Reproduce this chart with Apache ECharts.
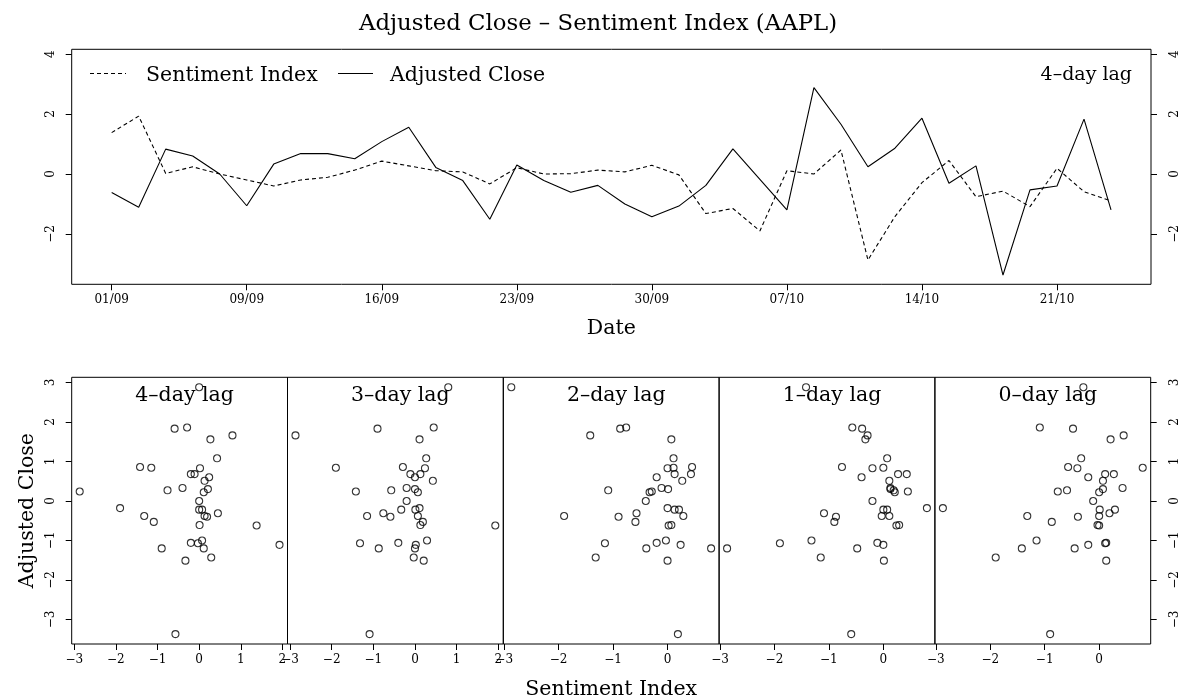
<!DOCTYPE html>
<html>
<head>
<meta charset="utf-8">
<title>Adjusted Close – Sentiment Index (AAPL)</title>
<script src="https://cdn.jsdelivr.net/npm/echarts@6/dist/echarts.min.js"></script>
<style>
  html, body { margin: 0; padding: 0; background: #fff; }
  #chart { width: 1184px; height: 699px; }
</style>
</head>
<body>
<div id="chart"></div>
<script>
// Trading days, 1 Sep – 23 Oct 2015
const tradingDates = [
  '01/09','02/09','03/09','04/09','08/09','09/09','10/09','11/09','14/09','15/09',
  '16/09','17/09','18/09','21/09','22/09','23/09','24/09','25/09','28/09','29/09',
  '30/09','01/10','02/10','05/10','06/10','07/10','08/10','09/10','12/10','13/10',
  '14/10','15/10','16/10','19/10','20/10','21/10','22/10','23/10'
];

// Dates that get a tick on the time axis
const dateTicks = ['01/09','09/09','16/09','23/09','30/09','07/10','14/10','21/10'];

// Standardised adjusted close, one value per trading day
const adjustedClose = [
  -0.62, -1.11, 0.83, 0.60, 0.00, -1.06, 0.33, 0.68, 0.68, 0.51,
   1.08,  1.56, 0.22, -0.22, -1.51, 0.30, -0.22, -0.61, -0.38, -1.00,
  -1.43, -1.07, -0.38, 0.84, -0.18, -1.20, 2.88, 1.66, 0.24, 0.86,
   1.86, -0.31, 0.27, -3.37, -0.53, -0.40, 1.83, -1.20
];

// Standardised sentiment index; starts 4 trading days before the first close,
// so sentimentIndex[t + 4 - k] is the reading k days before close t
const sentimentIndex = [
   1.38,  1.93, 0.02, 0.24, 0.00, -0.20, -0.40, -0.20, -0.11, 0.13,
   0.43,  0.27, 0.11, 0.07, -0.33, 0.21, 0.00, 0.01, 0.13, 0.07,
   0.29, -0.03, -1.32, -1.15, -1.90, 0.11, 0.00, 0.80, -2.87, -1.42,
  -0.29,  0.45, -0.76, -0.57, -1.09, 0.19, -0.59, -0.90, -0.87, -0.39,
  -0.48, -0.45
];

// Lags shown in the scatter panels, left to right
const lags = [4, 3, 2, 1, 0];

const FONT = 'DejaVu Serif';
const minus = v => String(v).replace('-', '\u2212');

// R-style 4% range padding
function padRange(values) {
  const lo = Math.min(...values), hi = Math.max(...values);
  const d = (hi - lo) * 0.04;
  return [lo - d, hi + d];
}
function intTicks(lo, hi) {
  const out = [];
  for (let v = Math.ceil(lo); v <= Math.floor(hi); v++) out.push(v);
  return out;
}

const n = adjustedClose.length;
const tickIdx = dateTicks.map(d => tradingDates.indexOf(d));
const lagged = sentimentIndex.slice(0, n);

const grids = [];
const xAxes = [];
const yAxes = [];
const series = [];
const titles = [];

const tickStyle = { show: true, length: 6, lineStyle: { color: '#000', width: 1 } };
const axisText = { color: '#000', fontFamily: FONT, fontSize: 12 };
const nameText = { color: '#000', fontFamily: FONT, fontSize: 20.5 };
const hiddenLine = { show: false, onZero: false };
const boxStyle = { show: true, borderColor: '#000', borderWidth: 1, outerBoundsMode: 'none', containLabel: false };

// ---- top panel: time series ----
grids.push(Object.assign({ left: 71.7, top: 49.3, width: 1079.3, height: 235 }, boxStyle));

xAxes.push({
  type: 'value', gridIndex: 0, min: -0.04 * (n - 1), max: (n - 1) * 1.04,
  axisLine: hiddenLine, splitLine: { show: false },
  axisTick: Object.assign({ customValues: tickIdx }, tickStyle),
  axisLabel: Object.assign({ customValues: tickIdx, margin: 10, formatter: v => tradingDates[v] }, axisText),
  name: 'Date', nameLocation: 'middle', nameGap: 34, nameTextStyle: nameText
});
const topYTicks = [-2, 0, 2, 4];
['left', 'right'].forEach(pos => {
  yAxes.push({
    type: 'value', gridIndex: 0, position: pos, min: -3.68, max: 4.16,
    axisLine: hiddenLine, splitLine: { show: false },
    axisTick: Object.assign({ customValues: topYTicks }, tickStyle),
    axisLabel: Object.assign({ customValues: topYTicks, rotate: 90, margin: pos === 'left' ? 15 : 18, formatter: minus }, axisText)
  });
});

series.push({
  name: 'Sentiment Index', type: 'line', xAxisIndex: 0, yAxisIndex: 0,
  data: lagged.map((v, i) => [i, v]), symbol: 'none', animation: false,
  lineStyle: { color: '#000', width: 1.1, type: [4, 3] }
});
series.push({
  name: 'Adjusted Close', type: 'line', xAxisIndex: 0, yAxisIndex: 0,
  data: adjustedClose.map((v, i) => [i, v]), symbol: 'none', animation: false,
  lineStyle: { color: '#000', width: 1.1, type: 'solid' }
});

titles.push({
  text: 'Adjusted Close \u2013 Sentiment Index (AAPL)', left: 593, top: 8, textAlign: 'center',
  textStyle: { color: '#000', fontFamily: FONT, fontSize: 22.8, fontWeight: 'normal' }
});
titles.push({
  text: lags[0] + '\u2013day lag', left: 1127, top: 61, textAlign: 'right',
  textStyle: { color: '#000', fontFamily: FONT, fontSize: 19, fontWeight: 'normal' }
});

// ---- bottom row: lagged scatter panels ----
const panelTop = 377.3, panelH = 266.7, panelW = 215.8, panelLeft0 = 71.7;
const yRange = padRange(adjustedClose);
const yTicks = intTicks(yRange[0], yRange[1]);

lags.forEach((k, p) => {
  const gi = p + 1;
  const xs = adjustedClose.map((c, t) => sentimentIndex[t + 4 - k]);
  const xRange = padRange(xs);
  const xTicks = intTicks(xRange[0], xRange[1]);
  const left = panelLeft0 + p * panelW;
  grids.push(Object.assign({ left: left, top: panelTop, width: panelW, height: panelH }, boxStyle));

  const xa = {
    type: 'value', gridIndex: gi, min: xRange[0], max: xRange[1],
    axisLine: hiddenLine, splitLine: { show: false },
    axisTick: Object.assign({ customValues: xTicks }, tickStyle),
    axisLabel: Object.assign({ customValues: xTicks, margin: 10, formatter: minus }, axisText)
  };
  if (p === 2) {
    xa.name = 'Sentiment Index';
    xa.nameLocation = 'middle';
    xa.nameGap = 35;
    xa.nameTextStyle = nameText;
  }
  xAxes.push(xa);

  const isLast = p === lags.length - 1;
  const edge = p === 0 || isLast;
  const ya = {
    type: 'value', gridIndex: gi, min: yRange[0], max: yRange[1],
    position: isLast ? 'right' : 'left',
    axisLine: hiddenLine, splitLine: { show: false },
    axisTick: Object.assign({ customValues: yTicks }, tickStyle, { show: edge }),
    axisLabel: Object.assign({ customValues: yTicks, rotate: 90, margin: isLast ? 18 : 15, formatter: minus, show: edge }, axisText)
  };
  if (p === 0) {
    ya.name = 'Adjusted Close';
    ya.nameLocation = 'middle';
    ya.nameGap = 34;
    ya.nameRotate = 90;
    ya.nameTextStyle = nameText;
  }
  yAxes.push(ya);

  titles.push({
    text: k + '\u2013day lag', left: left + panelW / 2, top: panelTop + 3, textAlign: 'center',
    textStyle: { color: '#000', fontFamily: FONT, fontSize: 20.5, fontWeight: 'normal' }
  });

  series.push({
    name: k + '-day lag', type: 'scatter', xAxisIndex: gi, yAxisIndex: gi + 1,
    data: adjustedClose.map((c, t) => [xs[t], c]),
    symbol: 'circle', symbolSize: 7, animation: false,
    itemStyle: { color: 'rgba(0,0,0,0)', borderColor: '#000', borderWidth: 1.1 }
  });
});

// Key for the two time series
const keyLineY = 73.5, keyTextY = 75.5;
const keyFont = '20.5px "DejaVu Serif"';
const graphic = [
  { type: 'line', shape: { x1: 90, y1: keyLineY, x2: 126, y2: keyLineY }, style: { stroke: '#000', lineWidth: 1.1, lineDash: [4, 3] } },
  { type: 'text', x: 146, y: keyTextY, style: { text: 'Sentiment Index', fill: '#000', font: keyFont, verticalAlign: 'middle' } },
  { type: 'line', shape: { x1: 338, y1: keyLineY, x2: 373, y2: keyLineY }, style: { stroke: '#000', lineWidth: 1.1 } },
  { type: 'text', x: 390, y: keyTextY, style: { text: 'Adjusted Close', fill: '#000', font: keyFont, verticalAlign: 'middle' } }
];

const chart = echarts.init(document.getElementById('chart'), null, { renderer: 'canvas' });
chart.setOption({
  backgroundColor: '#fff',
  animation: false,
  title: titles,
  grid: grids,
  xAxis: xAxes,
  yAxis: yAxes,
  series: series,
  graphic: graphic
});
</script>
</body>
</html>
